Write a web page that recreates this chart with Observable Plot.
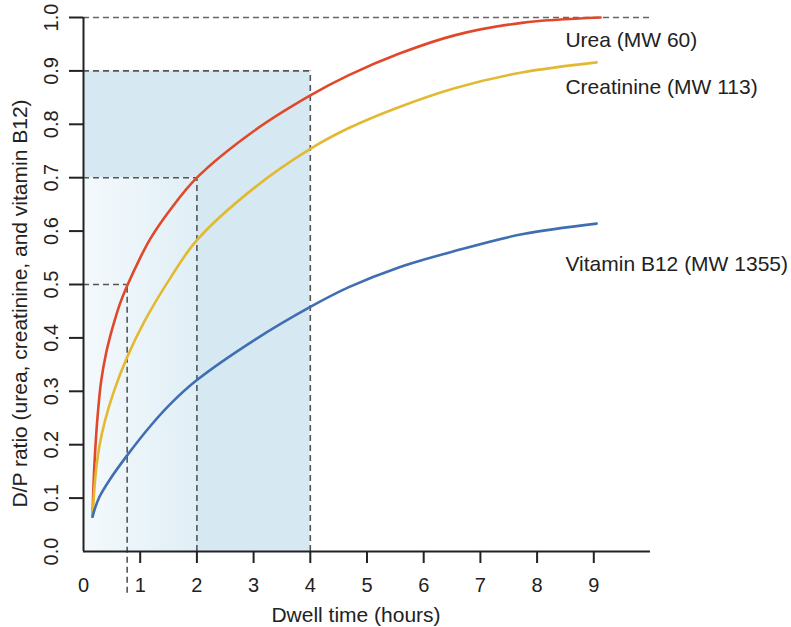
<!DOCTYPE html>
<html><head><meta charset="utf-8">
<script src="https://cdn.jsdelivr.net/npm/d3@7"></script>
<script src="https://cdn.jsdelivr.net/npm/@observablehq/plot@0.6"></script>
<style>body{margin:0;background:#fff;} #chart svg{display:block;}</style>
</head><body><div id="chart"></div>
<script>
// Dwell time (hours) and D/P ratio, per solute
const ureaTimes  = [0.16, 0.18, 0.21, 0.25, 0.31, 0.40, 0.47, 0.55, 0.65, 0.78, 1.0, 1.18, 1.53, 2, 3, 4, 4.68, 5.56, 6.56, 7.73, 9.12];
const ureaValues = [0.065, 0.134, 0.196, 0.255, 0.318, 0.372, 0.403, 0.433, 0.466, 0.500, 0.550, 0.586, 0.640, 0.700, 0.787, 0.854, 0.892, 0.932, 0.967, 0.990, 1.000];

const creatinineTimes  = [0.16, 0.21, 0.28, 0.38, 0.53, 0.77, 1.07, 1.53, 2, 3, 4, 4.68, 5.56, 6.56, 7.73, 9.05];
const creatinineValues = [0.065, 0.140, 0.197, 0.245, 0.298, 0.364, 0.430, 0.512, 0.583, 0.680, 0.754, 0.793, 0.832, 0.868, 0.897, 0.916];

const b12Times  = [0.16, 0.20, 0.28, 0.46, 0.77, 1.18, 1.53, 2, 3, 4, 4.68, 5.56, 6.56, 7.73, 9.05];
const b12Values = [0.065, 0.080, 0.102, 0.134, 0.180, 0.235, 0.276, 0.321, 0.395, 0.458, 0.495, 0.532, 0.563, 0.594, 0.614];

const seriesNames = ["Urea (MW 60)", "Creatinine (MW 113)", "Vitamin B12 (MW 1355)"];
const seriesColors = ["#e1482a", "#e2b930", "#3f6fb1"];
const labelX = [8.5, 8.5, 8.5];
const labelY = [0.957, 0.869, 0.538];

// reference (dashed) guides
const refTimes = [0.77, 2, 4];
const refRatios = [0.5, 0.7, 0.9];

const xTicks = [0, 1, 2, 3, 4, 5, 6, 7, 8, 9];
const yTicks = [0, 0.1, 0.2, 0.3, 0.4, 0.5, 0.6, 0.7, 0.8, 0.9, 1.0];
const xTitle = "Dwell time (hours)";
const yTitle = "D/P ratio (urea, creatinine, and vitamin B12)";

const seriesTimes = [ureaTimes, creatinineTimes, b12Times];
const seriesValues = [ureaValues, creatinineValues, b12Values];
const rows = seriesNames.flatMap((name, s) => seriesTimes[s].map((t, i) => ({t, r: seriesValues[s][i], name})));
const labels = seriesNames.map((name, i) => ({name, x: labelX[i], y: labelY[i]}));
const refs = refTimes.map((t, i) => ({t, r: refRatios[i], i}));

const font = "Liberation Sans, Arial, Helvetica, sans-serif";
const dash = {stroke: "#555", strokeDasharray: "6,4", strokeWidth: 1.6};

const chart = Plot.plot({
  width: 791,
  height: 627,
  marginLeft: 83,
  marginRight: 141,
  marginTop: 17,
  marginBottom: 76,
  style: {fontFamily: font, fontSize: "20px", color: "#222", background: "#fff"},
  x: {domain: [0, 10], axis: null},
  y: {domain: [0, 1], axis: null},
  color: {domain: seriesNames, range: seriesColors},
  marks: [
    Plot.rect([refs[2]], {x1: 0, x2: "t", y1: 0, y2: "r", fill: "#d6e9f2"}),
    Plot.rect([refs[1]], {x1: 0, x2: "t", y1: 0, y2: "r", fill: "url(#lightGrad)"}),
    Plot.ruleY([1], {x1: 0, x2: 10, ...dash, stroke: "#666", strokeWidth: 1.4}),
    Plot.ruleY(refs, {y: "r", x1: 0, x2: "t", ...dash}),
    Plot.ruleX(refs, {x: "t", y1: d => d.i === 0 ? -0.078 : 0, y2: "r", ...dash}),
    Plot.line(rows, {x: "t", y: "r", z: "name", stroke: "name", strokeWidth: 2.6, curve: "catmull-rom"}),
    Plot.ruleX([0], {y1: 0, y2: 1, stroke: "#222", strokeWidth: 2}),
    Plot.ruleY([0], {x1: 0, x2: 10, stroke: "#222", strokeWidth: 2}),
    Plot.axisX(xTicks.filter(d => d > 0), {tickSize: 12, strokeWidth: 2, stroke: "#222", tickFormat: () => "", label: null}),
    Plot.axisX(xTicks, {tickSize: 0, tickPadding: 26, fontSize: 20, fill: "#222", label: null}),
    Plot.axisY(yTicks.filter(d => d > 0), {tickSize: 14, strokeWidth: 2, stroke: "#222", tickFormat: () => "", label: null}),
    Plot.axisY(yTicks, {tickSize: 0, tickRotate: -90, tickPadding: 26, fontSize: 20, fill: "#222", tickFormat: d3.format(".1f"), label: null}),
    Plot.text(labels, {x: "x", y: "y", text: "name", textAnchor: "start", fontSize: 21, fill: "#222"}),
    Plot.text([xTitle], {frameAnchor: "bottom", dy: 70, dx: -11, fontSize: 21, fill: "#222"}),
    Plot.text([yTitle], {frameAnchor: "left", textAnchor: "middle", dx: -63, dy: 19, rotate: -90, fontSize: 21, fill: "#222"})
  ]
});

const svg = d3.select(chart);
const defs = svg.insert("defs", ":first-child");
const grad = defs.append("linearGradient").attr("id", "lightGrad")
  .attr("x1", "0").attr("x2", "1").attr("y1", "0").attr("y2", "0");
grad.append("stop").attr("offset", "0%").attr("stop-color", "#f4f9fc");
grad.append("stop").attr("offset", "100%").attr("stop-color", "#e0eff6");
document.getElementById("chart").appendChild(chart);
</script>
</body></html>
